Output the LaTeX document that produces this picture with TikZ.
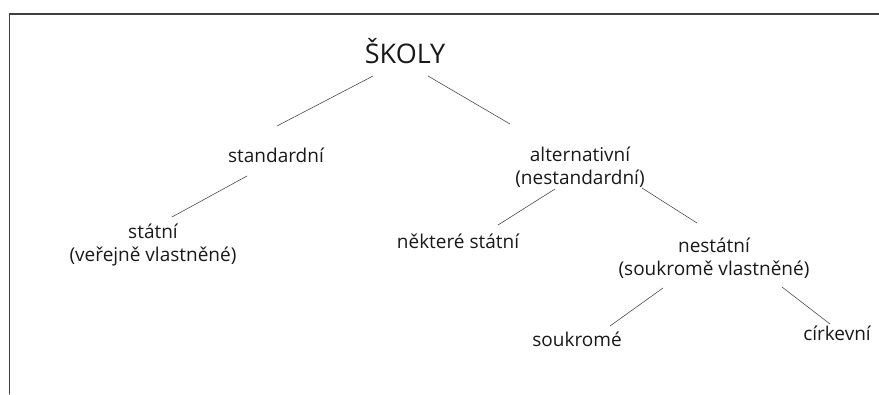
\documentclass[tikz,border=0pt]{standalone}
\usepackage{fontspec}
\setmainfont{Open Sans}
\begin{document}
\begin{tikzpicture}[x=1pt,y=1pt, line join=round, line cap=round,
  every node/.style={text=black!90, inner sep=0pt, align=center, font=\fontsize{19}{23}\selectfont},
  branch/.style={line width=0.6pt, draw=black!70}]
\useasboundingbox (0,0) rectangle (879,394);
\draw[line width=1.2pt, black!75] (9.5,0) -- (9.5,380) -- (879,380);
% uzly
\node (skoly) at (405,343) {\fontsize{27}{30}\selectfont ŠKOLY};
\node (std) at (276,239) {standardní};
\node (alt) at (580,227) {alternativní\\(nestandardní)};
\node (statni) at (153,149) {státní\\(veřejně vlastněné)};
\node (nekt) at (458,153) {některé státní};
\node (nestatni) at (714,136) {nestátní\\(soukromě vlastněné)};
\node (soukr) at (577,55) {soukromé};
\node (cirk) at (837,61) {církevní};
% spojnice
\draw[branch] ([shift={(-32,-25)}]skoly.center) -- ([shift={(1,29)}]std.center);
\draw[branch] ([shift={(23,-25)}]skoly.center) -- ([shift={(-70,43)}]alt.center);
\draw[branch] ([shift={(-29,-21)}]std.center) -- ([shift={(19,28)}]statni.center);
\draw[branch] ([shift={(-25,-22)}]alt.center) -- ([shift={(40,16)}]nekt.center);
\draw[branch] ([shift={(62,-21)}]alt.center) -- ([shift={(-17,35)}]nestatni.center);
\draw[branch] ([shift={(-51,-30)}]nestatni.center) -- ([shift={(33,13)}]soukr.center);
\draw[branch] ([shift={(68,-29)}]nestatni.center) -- ([shift={(-7,9)}]cirk.center);
\end{tikzpicture}
\end{document}
